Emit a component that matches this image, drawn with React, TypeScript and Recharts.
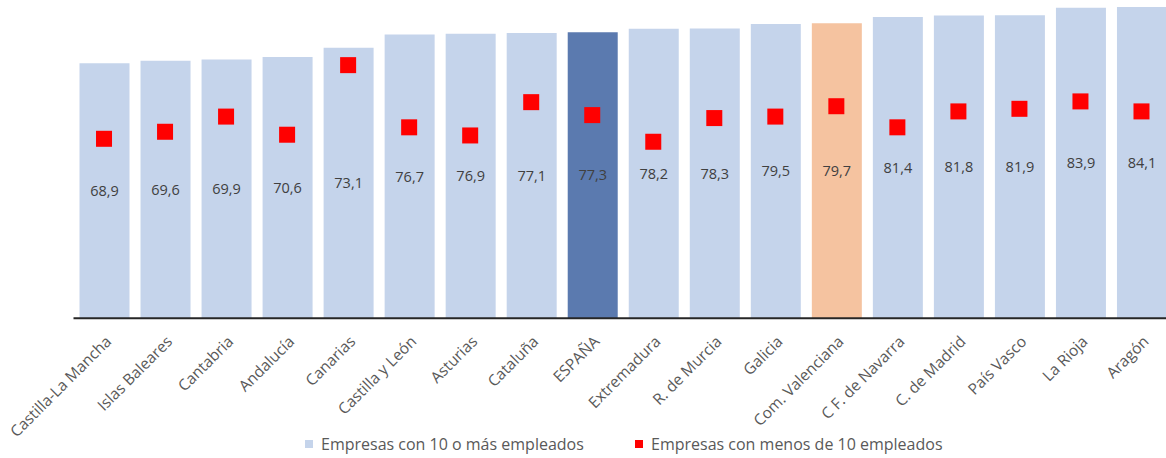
import React from "react";
import { ComposedChart, Bar, Scatter, XAxis, YAxis, Cell, LabelList, Legend } from "recharts";

const categories = [
  "Castilla-La Mancha", "Islas Baleares", "Cantabria", "Andalucía", "Canarias",
  "Castilla y León", "Asturias", "Cataluña", "ESPAÑA", "Extremadura",
  "R. de Murcia", "Galicia", "Com. Valenciana", "C F. de Navarra", "C. de Madrid",
  "País Vasco", "La Rioja", "Aragón",
];
const bigFirms = [68.9, 69.6, 69.9, 70.6, 73.1, 76.7, 76.9, 77.1, 77.3, 78.2, 78.3, 79.5, 79.7, 81.4, 81.8, 81.9, 83.9, 84.1];
const smallFirms = [48.5, 50.4, 54.5, 49.6, 68.4, 51.6, 49.4, 58.4, 54.9, 47.7, 54.1, 54.5, 57.3, 51.6, 55.9, 56.6, 58.6, 55.9];
const seriesNames = ["Empresas con 10 o más empleados", "Empresas con menos de 10 empleados"];

const data = categories.map((name, i) => ({ name, big: bigFirms[i], small: smallFirms[i] }));

const FONT = "'Open Sans', 'Liberation Sans', sans-serif";
const BLUE = "#C5D4EB";
const DARK = "#5B7AAF";
const ORANGE = "#F5C3A0";
const RED = "#FF0000";

const colorFor = (name: string) =>
  name === "ESPAÑA" ? DARK : name === "Com. Valenciana" ? ORANGE : BLUE;

const Tick = (props: any) => {
  const { x, y, payload } = props;
  return (
    <g transform={`translate(${x + 4},${y + 12})`}>
      <text
        transform="rotate(-45)"
        textAnchor="end"
        dominantBaseline="central"
        fontSize={15.5}
        fontFamily={FONT}
        fill="#595959"
      >
        {payload.value}
      </text>
    </g>
  );
};

const SquareShape = (props: any) => {
  const { cx, cy } = props;
  if (cx == null || cy == null) return null;
  return <rect x={cx - 8} y={cy - 8} width={16} height={16} fill={RED} />;
};

const LegendItem = ({ left, color, label }: { left: number; color: string; label: string }) => (
  <div style={{ position: "absolute", left, top: 0, height: 28, display: "flex", alignItems: "center" }}>
    <span style={{ display: "inline-block", width: 8, height: 8, background: color, marginRight: 8 }} />
    <span>{label}</span>
  </div>
);

const LegendContent = () => (
  <div
    style={{
      position: "relative",
      height: 28,
      width: 1166,
      fontFamily: FONT,
      fontSize: 16,
      color: "#595959",
      whiteSpace: "nowrap",
    }}
  >
    <LegendItem left={305} color={BLUE} label={seriesNames[0]} />
    <LegendItem left={635} color={RED} label={seriesNames[1]} />
  </div>
);

export default function App() {
  return (
    <div
      style={{
        position: "absolute",
        left: 0,
        top: 0,
        width: 1166,
        height: 458,
        overflow: "hidden",
        background: "#fff",
      }}
    >
      <ComposedChart
        width={1172}
        height={458}
        data={data}
        margin={{ top: 0, right: 0, left: 73.5, bottom: 0 }}
      >
        <XAxis
          dataKey="name"
          interval={0}
          tickLine={false}
          axisLine={{ stroke: "#262626", strokeWidth: 2 }}
          tick={<Tick />}
          height={111.7}
        />
        <YAxis hide domain={[0, 86]} />
        <Bar dataKey="big" name={seriesNames[0]} barSize={50} isAnimationActive={false}>
          {data.map((d) => (
            <Cell key={d.name} fill={colorFor(d.name)} />
          ))}
          <LabelList
            dataKey="big"
            position="center"
            formatter={(v: any) => String(v).replace(".", ",")}
            style={{ fontFamily: FONT, fontSize: 14.5, fill: "#404040" }}
          />
        </Bar>
        <Scatter dataKey="small" name={seriesNames[1]} shape={<SquareShape />} isAnimationActive={false} />
        <Legend
          verticalAlign="bottom"
          content={<LegendContent />}
          wrapperStyle={{ left: 0, width: 1166, height: 28 }}
        />
      </ComposedChart>
    </div>
  );
}
